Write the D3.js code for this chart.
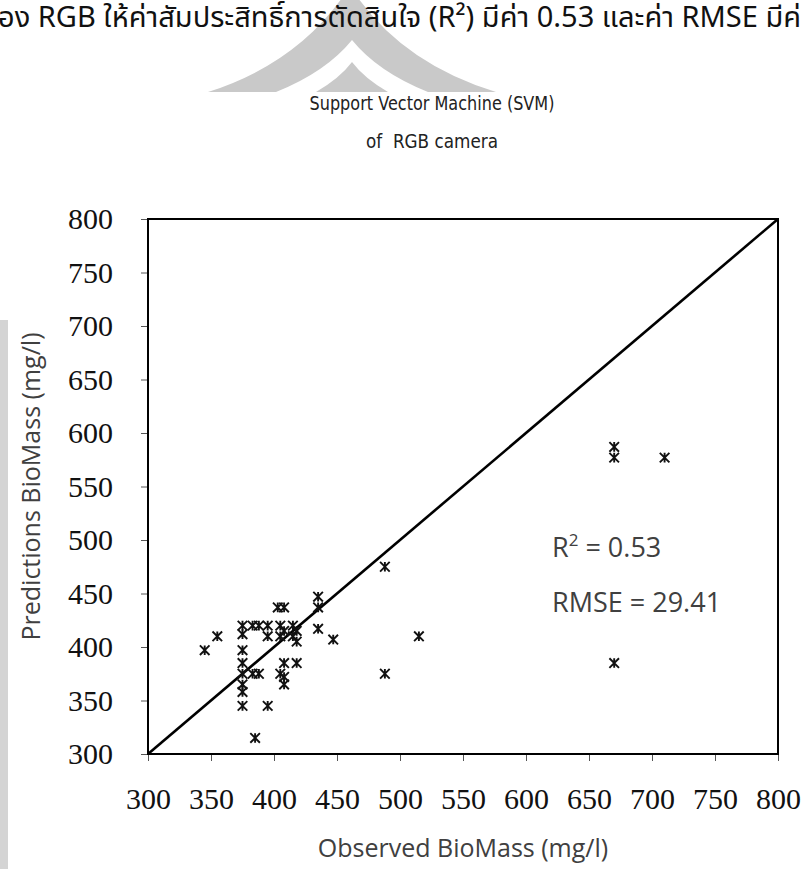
<!DOCTYPE html>
<html>
<head>
<meta charset="utf-8">
<style>
  body { margin: 0; background: #fff; }
  svg { display: block; }
</style>
</head>
<body>
<div id="chart"></div>
<script src="https://cdn.jsdelivr.net/npm/d3@7"></script>
<script>
  var width = 806,
      height = 869;

  // observed vs predicted biomass (mg/l)
  var observed  = [345, 355, 375, 375, 375, 375, 375, 375, 375, 375, 383, 388, 383, 388, 385,
                   395, 395, 395, 403, 408, 405, 405, 408, 405, 408, 408, 408, 415, 415, 418,
                   418, 418, 435, 435, 435, 447, 488, 488, 515, 670, 670, 670, 710];
  var predicted = [397, 410, 420, 412, 397, 385, 375, 365, 358, 345, 420, 420, 375, 375, 315,
                   420, 410, 345, 437, 437, 420, 410, 415, 375, 385, 365, 372, 420, 410, 415,
                   405, 385, 447, 437, 417, 407, 475, 375, 410, 587, 577, 385, 577];
  var ticks = [300, 350, 400, 450, 500, 550, 600, 650, 700, 750, 800];
  var stats = ["R", " = 0.53"];
  var rmseLabel = "RMSE = 29.41";

  var margin = {left: 148, right: 28, top: 219, bottom: 115};

  var svg = d3.select("#chart")
    .append("svg")
      .attr("width", width)
      .attr("height", height);

  // faded watermark
  var wm = svg.append("g").attr("fill", "#c9c9c9");
  wm.append("path").attr("d", "M208,92 Q302,62 350,-14 Q398,62 496,92 Z");
  wm.append("path").attr("d", "M276,92 Q326,72 352,40 Q378,72 428,92 Z").attr("fill", "#fff");
  wm.append("path").attr("d", "M316,92 Q340,78 352,62 Q364,78 388,92 Z");

  // header text from the report page
  svg.append("text")
      .attr("x", -2)
      .attr("y", 27)
      .style("font-family", "'Noto Sans Thai', 'Noto Sans', 'DejaVu Sans', sans-serif")
      .style("font-size", "29px")
      .style("fill", "#111")
      .text("อง RGB ให้ค่าสัมประสิทธิ์การตัดสินใจ (R²) มีค่า 0.53 และค่า RMSE มีค่");

  // page edge shadow
  svg.append("rect")
      .attr("x", 0).attr("y", 320)
      .attr("width", 8).attr("height", height - 320)
      .attr("fill", "#d4d4d4");

  var x = d3.scaleLinear().domain([300, 800]).range([margin.left, width - margin.right]);
  var y = d3.scaleLinear().domain([300, 800]).range([height - margin.bottom, margin.top]);

  var titleFont = "'DejaVu Sans', Tahoma, sans-serif";
  svg.append("text")
      .attr("x", 432).attr("y", 110)
      .attr("text-anchor", "middle")
      .attr("textLength", 245)
      .attr("lengthAdjust", "spacingAndGlyphs")
      .style("font-family", titleFont)
      .style("font-size", "19px")
      .style("fill", "#222")
      .text("Support Vector Machine (SVM)");
  svg.append("text")
      .attr("x", 432).attr("y", 148)
      .attr("text-anchor", "middle")
      .attr("textLength", 132)
      .attr("lengthAdjust", "spacingAndGlyphs")
      .style("font-family", titleFont)
      .style("font-size", "19px")
      .style("fill", "#222")
      .style("white-space", "pre")
      .text("of  RGB camera");

  var xAxis = svg.append("g")
      .attr("transform", "translate(0," + y(300) + ")")
      .call(d3.axisBottom(x).tickValues(ticks).tickSize(7).tickPadding(27));
  var yAxis = svg.append("g")
      .attr("transform", "translate(" + x(300) + ",0)")
      .call(d3.axisLeft(y).tickValues(ticks).tickSize(7).tickPadding(28));

  [xAxis, yAxis].forEach(function(a) {
    a.select(".domain").remove();
    a.selectAll("line").attr("stroke", "#555");
    a.selectAll("text")
      .style("font-family", "'Liberation Serif', 'Times New Roman', serif")
      .style("font-size", "30px")
      .style("fill", "#111");
  });

  // frame
  svg.append("rect")
      .attr("x", x(300)).attr("y", y(800))
      .attr("width", x(800) - x(300)).attr("height", y(300) - y(800))
      .attr("fill", "none")
      .attr("stroke", "#000")
      .attr("stroke-width", 2);

  // 1:1 line
  svg.append("line")
      .attr("x1", x(300)).attr("y1", y(300))
      .attr("x2", x(800)).attr("y2", y(800))
      .attr("stroke", "#000")
      .attr("stroke-width", 2.6);

  // star markers
  var s = 4.8;
  var star = "M" + (-s) + "," + (-s) + "L" + s + "," + s +
             "M" + (-s) + "," + s + "L" + s + "," + (-s) +
             "M0," + (-s) + "L0," + s;
  svg.append("g").selectAll("path")
    .data(observed)
    .enter().append("path")
      .attr("d", star)
      .attr("transform", function(d, i) { return "translate(" + x(d) + "," + y(predicted[i]) + ")"; })
      .attr("stroke", "#111")
      .attr("stroke-width", 1.9)
      .attr("fill", "none");

  var labelFont = "'Open Sans', 'Noto Sans', sans-serif";
  var r2 = svg.append("text")
      .attr("x", 552).attr("y", 557)
      .style("font-family", labelFont)
      .style("font-size", "27px")
      .style("fill", "#404040");
  r2.append("tspan").text(stats[0]);
  r2.append("tspan").attr("dy", -11).style("font-size", "17px").text("2");
  r2.append("tspan").attr("dy", 11).text(stats[1]);

  svg.append("text")
      .attr("x", 552).attr("y", 612)
      .style("font-family", labelFont)
      .style("font-size", "27px")
      .style("fill", "#404040")
      .text(rmseLabel);

  svg.append("text")
      .attr("x", (x(300) + x(800)) / 2).attr("y", 857)
      .attr("text-anchor", "middle")
      .style("font-family", labelFont)
      .style("font-size", "25px")
      .style("fill", "#404040")
      .text("Observed BioMass (mg/l)");

  svg.append("text")
      .attr("transform", "translate(40," + ((y(300) + y(800)) / 2) + ") rotate(-90)")
      .attr("text-anchor", "middle")
      .style("font-family", labelFont)
      .style("font-size", "25px")
      .style("fill", "#404040")
      .text("Predictions BioMass (mg/l)");
</script>
</body>
</html>
